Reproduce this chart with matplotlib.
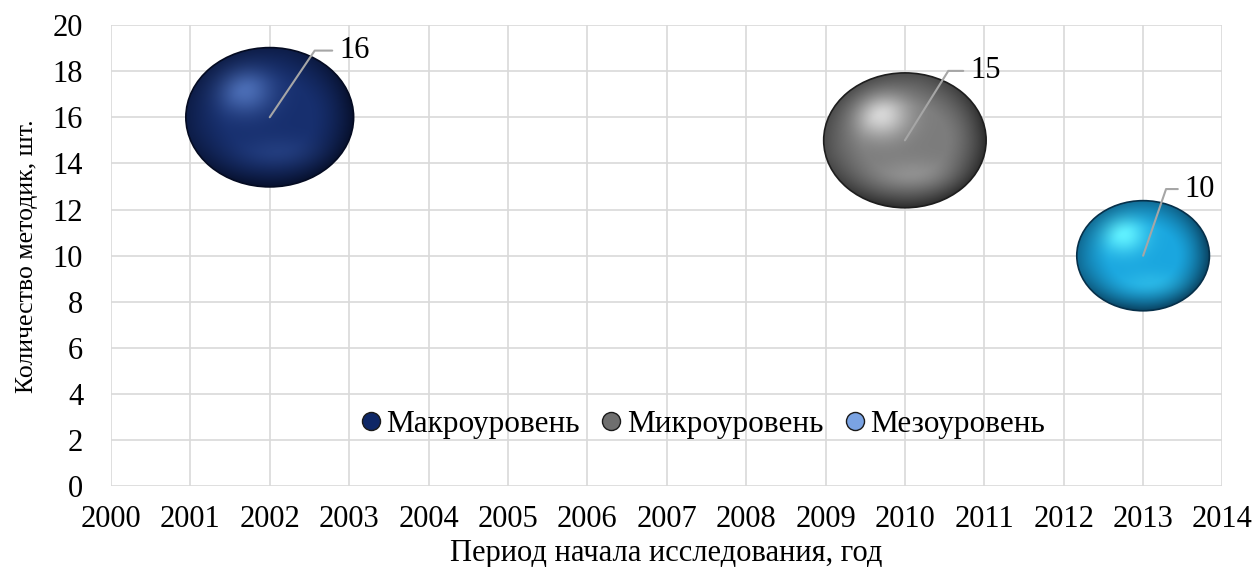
import numpy as np
import matplotlib.pyplot as plt
from matplotlib.patches import Ellipse
from matplotlib.lines import Line2D

plt.rcParams['font.family'] = ['Liberation Serif', 'DejaVu Serif']

# данные
series = ['Макроуровень', 'Микроуровень', 'Мезоуровень']
years = [2002, 2010, 2013]
counts = [16, 15, 10]
sizes = [16, 15, 10]

# стиль пузырей: (светлый, основной, тёмный)
shades = [('#4a6cb4', '#172f6e', '#040b22'),
          ('#d6d6d6', '#7c7c7c', '#1e1e1e'),
          ('#5ff0ff', '#1aa6df', '#06304a')]
legend_colors = ['#0e2766', '#6f6f6f', '#7aa3e3']
label_offsets = [(50, 48), (47, 50), (30, 48)]   # в пунктах
leader_angles = [56, 58, 71]

fig = plt.figure(figsize=(12.55, 5.67), dpi=100)
ax = fig.add_axes([0.0884, 0.142, 0.8857, 0.814])
ax.set_xlim(2000, 2014)
ax.set_ylim(0, 20)
ax.set_xticks(range(2000, 2015))
ax.set_yticks(range(0, 21, 2))
ax.grid(color='#d9d9d9', lw=1.2)
ax.set_axisbelow(True)
for s in ax.spines.values():
    s.set_visible(False)
ax.tick_params(axis='x', length=0, labelsize=22, pad=13)
ax.tick_params(axis='y', length=0, labelsize=22, pad=20)
ax.set_xlabel('Период начала исследования, год', fontsize=22, labelpad=4)
ax.set_ylabel('Количество методик, шт.', fontsize=18.5)
ax.yaxis.set_label_coords(-0.066, 0.5)

# размер пузыря в пикселях: площадь пропорциональна размеру
px_x = 1113 / 14   # пикселей на год
px_y = 462 / 20    # пикселей на единицу
k = 42

n = 200
u, v = np.meshgrid(np.linspace(-1, 1, n), np.linspace(1, -1, n))
r = np.sqrt(u**2 + v**2)
d = np.sqrt((u + 0.3)**2 + (v - 0.38)**2)

def rgb(h):
    h = h.lstrip('#')
    return np.array([int(h[i:i + 2], 16) / 255 for i in (0, 2, 4)])

for x, y, s, (lt, bs, dk) in zip(years, counts, sizes, shades):
    w_px = k * np.sqrt(s)
    h_px = w_px * 0.83
    w = w_px / px_x
    h = h_px / px_y
    light, base, dark = rgb(lt), rgb(bs), rgb(dk)
    t1 = np.exp(-(d / 0.33)**2)[..., None]
    img = base * (1 - t1) + light * t1
    shade = np.clip((r - 0.5) / 0.5, 0, 1)**1.5
    shade = (shade * (0.6 + 0.4 * np.clip((u - v) / 1.4 + 0.5, 0, 1)))[..., None]
    img = img * (1 - shade * 0.85) + dark * shade * 0.85
    t2 = (0.22 * np.exp(-(((u - 0.1) / 0.45)**2 + ((v + 0.5) / 0.22)**2)))[..., None]
    img = img * (1 - t2) + light * t2
    img = np.clip(img, 0, 1)
    ell = Ellipse((x, y), w, h, transform=ax.transData, facecolor='none',
                  edgecolor=dark, lw=1.2, zorder=3)
    ax.add_patch(ell)
    im = ax.imshow(img, extent=(x - w / 2, x + w / 2, y - h / 2, y + h / 2),
                   aspect='auto', zorder=2, interpolation='bilinear')
    im.set_clip_path(ell)

ax.set_xlim(2000, 2014)
ax.set_ylim(0, 20)

for x, y, off, ang in zip(years, counts, label_offsets, leader_angles):
    ax.annotate(str(y), xy=(x, y), xytext=off, textcoords='offset points',
                ha='left', va='center', fontsize=22, zorder=5,
                arrowprops=dict(arrowstyle='-', color='#a6a6a6', lw=1.5,
                                shrinkA=3, shrinkB=0, relpos=(0, 0.5),
                                connectionstyle='angle,angleA=0,angleB=%d,rad=0' % ang))

handles = [Line2D([], [], ls='none', marker='o', markersize=13,
                  markerfacecolor=c, markeredgecolor='#1a1a1a', markeredgewidth=1)
           for c in legend_colors]
ax.legend(handles, series, loc='center', bbox_to_anchor=(0.53, 0.134), ncol=3,
          frameon=False, fontsize=22.5, handletextpad=0.0, columnspacing=0.5,
          handlelength=1.0, borderpad=0)

fig.savefig('out.png', dpi=100)
